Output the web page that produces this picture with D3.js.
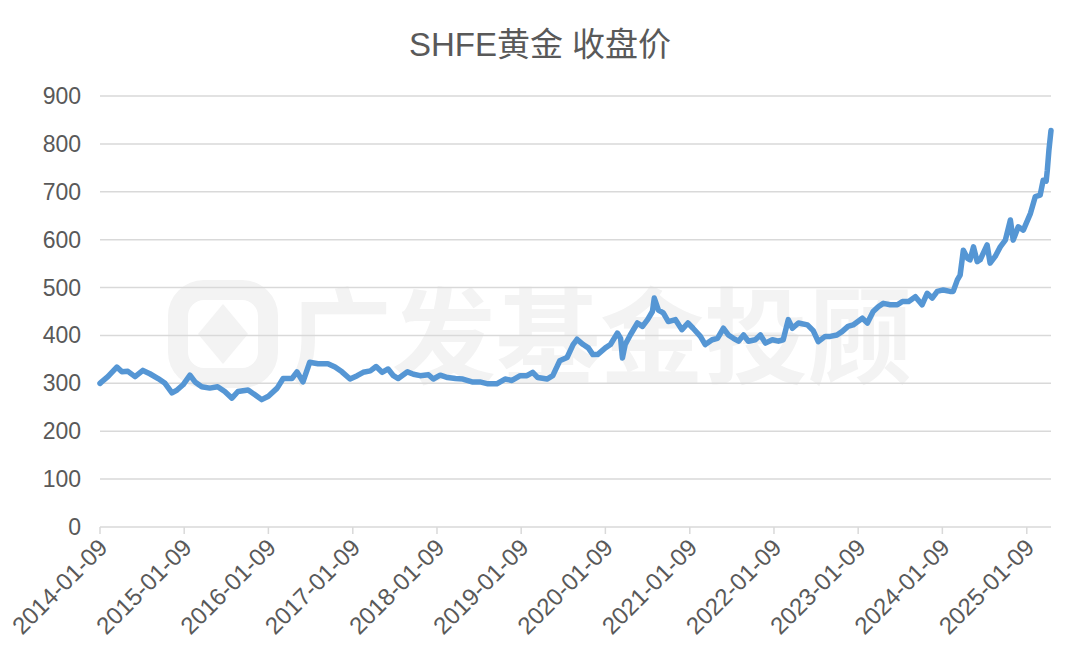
<!DOCTYPE html>
<html>
<head>
    <meta charset="utf-8">
    <title>SHFE黄金 收盘价</title>
    <script src="https://d3js.org/d3.v7.min.js"></script>
    <style>
        body { margin: 0; background-color: #fff; }
        text { font-family: "Liberation Sans", Arial, "Noto Sans CJK SC", sans-serif; }
    </style>
</head>
<body>
<svg width="1080" height="663"></svg>
<script>
    // close prices (yuan / gram)
    var dates = [
        "2014-01-09", "2014-01-16", "2014-02-12", "2014-03-23", "2014-04-14", "2014-05-10", "2014-06-10",
        "2014-07-14", "2014-08-13", "2014-09-18", "2014-10-18", "2014-11-17", "2014-12-09", "2015-01-04",
        "2015-02-03", "2015-02-25", "2015-03-26", "2015-04-30", "2015-06-03", "2015-07-04", "2015-08-04",
        "2015-08-30", "2015-10-13", "2015-11-12", "2015-12-11", "2016-01-09", "2016-02-16", "2016-03-13",
        "2016-04-20", "2016-05-12", "2016-06-07", "2016-07-06", "2016-08-11", "2016-09-23", "2016-10-24",
        "2016-11-23", "2016-12-28", "2017-01-28", "2017-02-23", "2017-03-26", "2017-04-20", "2017-05-16",
        "2017-06-11", "2017-07-04", "2017-07-25", "2017-09-03", "2017-09-29", "2017-10-28", "2017-12-03",
        "2017-12-24", "2018-01-23", "2018-02-24", "2018-03-30", "2018-05-01", "2018-06-10", "2018-07-14",
        "2018-08-18", "2018-09-25", "2018-10-31", "2018-11-30", "2019-01-05", "2019-02-03", "2019-02-28",
        "2019-03-22", "2019-05-01", "2019-05-26", "2019-06-25", "2019-07-27", "2019-08-22", "2019-09-08",
        "2019-10-05", "2019-10-27", "2019-11-16", "2019-12-06", "2020-01-09", "2020-01-31", "2020-03-01",
        "2020-03-15", "2020-03-23", "2020-04-04", "2020-04-26", "2020-05-27", "2020-06-18", "2020-07-10",
        "2020-07-31", "2020-08-08", "2020-08-26", "2020-09-16", "2020-10-08", "2020-11-08", "2020-12-06",
        "2021-01-01", "2021-01-23", "2021-02-24", "2021-03-17", "2021-04-16", "2021-05-09", "2021-06-04",
        "2021-06-25", "2021-07-17", "2021-08-08", "2021-08-30", "2021-09-20", "2021-10-20", "2021-11-11",
        "2021-12-03", "2022-01-02", "2022-01-28", "2022-02-18", "2022-03-12", "2022-03-30", "2022-04-25",
        "2022-06-03", "2022-06-28", "2022-07-20", "2022-08-19", "2022-09-10", "2022-10-09", "2022-10-31",
        "2022-11-26", "2022-12-18", "2023-01-27", "2023-02-18", "2023-03-15", "2023-04-06", "2023-04-28",
        "2023-05-28", "2023-06-28", "2023-07-20", "2023-08-16", "2023-09-14", "2023-10-13", "2023-11-04",
        "2023-11-26", "2023-12-18", "2024-01-13", "2024-02-11", "2024-02-25", "2024-03-14", "2024-03-26",
        "2024-04-09", "2024-04-27", "2024-05-08", "2024-05-23", "2024-06-08", "2024-06-21", "2024-07-21",
        "2024-08-03", "2024-08-25", "2024-09-16", "2024-10-08", "2024-10-30", "2024-11-11", "2024-12-03",
        "2024-12-25", "2025-01-25", "2025-02-15", "2025-03-08", "2025-03-21", "2025-04-03", "2025-04-08",
        "2025-04-15", "2025-04-24"
    ];
    var closes = [
        300, 303, 314, 334, 324, 325, 314,
        327, 320, 310, 300, 280, 286, 297,
        317, 303, 293, 290, 293, 283, 269,
        283, 286, 276, 266, 273, 290, 310,
        310, 324, 303, 344, 341, 341, 334,
        324, 309, 316, 323, 326, 335, 323,
        330, 316, 310, 324, 319, 316, 318,
        309, 317, 312, 310, 309, 303, 303,
        299, 299, 309, 306, 316, 316, 323,
        312, 309, 316, 347, 354, 381, 392,
        381, 374, 360, 360, 374, 381, 405,
        394, 353, 381, 401, 426, 419, 433,
        450, 478, 453, 447, 429, 433, 412,
        426, 415, 398, 381, 391, 394, 415,
        401, 394, 388, 401, 388, 391, 401,
        384, 391, 388, 391, 433, 415, 426,
        422, 410, 387, 398, 398, 401, 408,
        419, 422, 436, 426, 450, 460, 467,
        464, 464, 471, 471, 481, 464, 488,
        478, 492, 495, 492, 492, 516, 526,
        578, 561, 558, 585, 554, 558, 589,
        551, 565, 585, 599, 641, 599, 627,
        620, 655, 690, 693, 724, 722, 745,
        787, 828
    ];
    var tickDates = ["2014-01-09", "2015-01-09", "2016-01-09", "2017-01-09", "2018-01-09", "2019-01-09",
        "2020-01-09", "2021-01-09", "2022-01-09", "2023-01-09", "2024-01-09", "2025-01-09"];
    var yTicks = [0, 100, 200, 300, 400, 500, 600, 700, 800, 900];
    var title = "SHFE黄金 收盘价";
    var watermark = "广发基金投顾";

    var svg = d3.select("svg");
    var parse = d3.timeParse("%Y-%m-%d");

    var data = dates.map(function (d, i) {
        return {date: parse(d), value: closes[i]};
    });

    var plotLeft = 100, plotRight = 1051, plotTop = 96, plotBottom = 527;

    var x = d3.scaleTime()
        .domain([parse(dates[0]), parse(dates[dates.length - 1])])
        .range([plotLeft, plotRight]);
    var y = d3.scaleLinear()
        .domain([0, 900])
        .range([plotBottom, plotTop]);

    svg.append("rect").attr("width", 1080).attr("height", 663).attr("fill", "#fff");

    // watermark
    var wm = svg.append("g").attr("fill", "none").attr("stroke", "#f3f3f3");
    wm.append("rect")
        .attr("x", 178).attr("y", 290).attr("width", 90).attr("height", 88)
        .attr("rx", 26).attr("stroke-width", 20);
    wm.append("path")
        .attr("d", "M223,304 L248,334 L223,364 L198,334 Z")
        .attr("fill", "#f3f3f3").attr("stroke", "none");
    svg.append("text")
        .attr("x", 600).attr("y", 376)
        .attr("text-anchor", "middle")
        .attr("font-size", 104)
        .attr("font-weight", "bold")
        .style("font-family", "'Noto Sans CJK SC', sans-serif")
        .attr("fill", "#f3f3f3")
        .text(watermark);

    // title
    svg.append("text")
        .attr("x", 540).attr("y", 56)
        .attr("text-anchor", "middle")
        .attr("font-size", 33)
        .attr("fill", "#595959")
        .text(title);

    // gridlines
    svg.append("g")
        .selectAll("line")
        .data(yTicks)
        .enter().append("line")
        .attr("x1", plotLeft).attr("x2", plotRight)
        .attr("y1", function (d) { return y(d); })
        .attr("y2", function (d) { return y(d); })
        .attr("stroke", "#d9d9d9")
        .attr("stroke-width", 1.5);

    svg.append("g")
        .selectAll("text")
        .data(yTicks)
        .enter().append("text")
        .attr("x", 81)
        .attr("y", function (d) { return y(d); })
        .attr("dy", "0.35em")
        .attr("text-anchor", "end")
        .attr("font-size", 23)
        .attr("fill", "#595959")
        .text(function (d) { return d; });

    // x axis ticks and labels
    var ticks = tickDates.map(parse);
    svg.append("g")
        .selectAll("line")
        .data(ticks)
        .enter().append("line")
        .attr("x1", function (d) { return x(d); })
        .attr("x2", function (d) { return x(d); })
        .attr("y1", plotBottom).attr("y2", plotBottom + 7)
        .attr("stroke", "#d9d9d9")
        .attr("stroke-width", 1.5);

    svg.append("g")
        .selectAll("text")
        .data(ticks)
        .enter().append("text")
        .attr("transform", function (d) {
            return "translate(" + (x(d) + 3) + "," + (plotBottom + 16) + ") rotate(-45)";
        })
        .attr("text-anchor", "end")
        .attr("dy", "0.35em")
        .attr("font-size", 24)
        .attr("fill", "#595959")
        .text(function (d) { return d3.timeFormat("%Y-%m-%d")(d); });

    // price line
    var line = d3.line()
        .x(function (d) { return x(d.date); })
        .y(function (d) { return y(d.value); });

    svg.append("path")
        .datum(data)
        .attr("d", line)
        .attr("fill", "none")
        .attr("stroke", "#5596d4")
        .attr("stroke-width", 5.5)
        .attr("stroke-linejoin", "round")
        .attr("stroke-linecap", "round");
</script>
</body>
</html>
